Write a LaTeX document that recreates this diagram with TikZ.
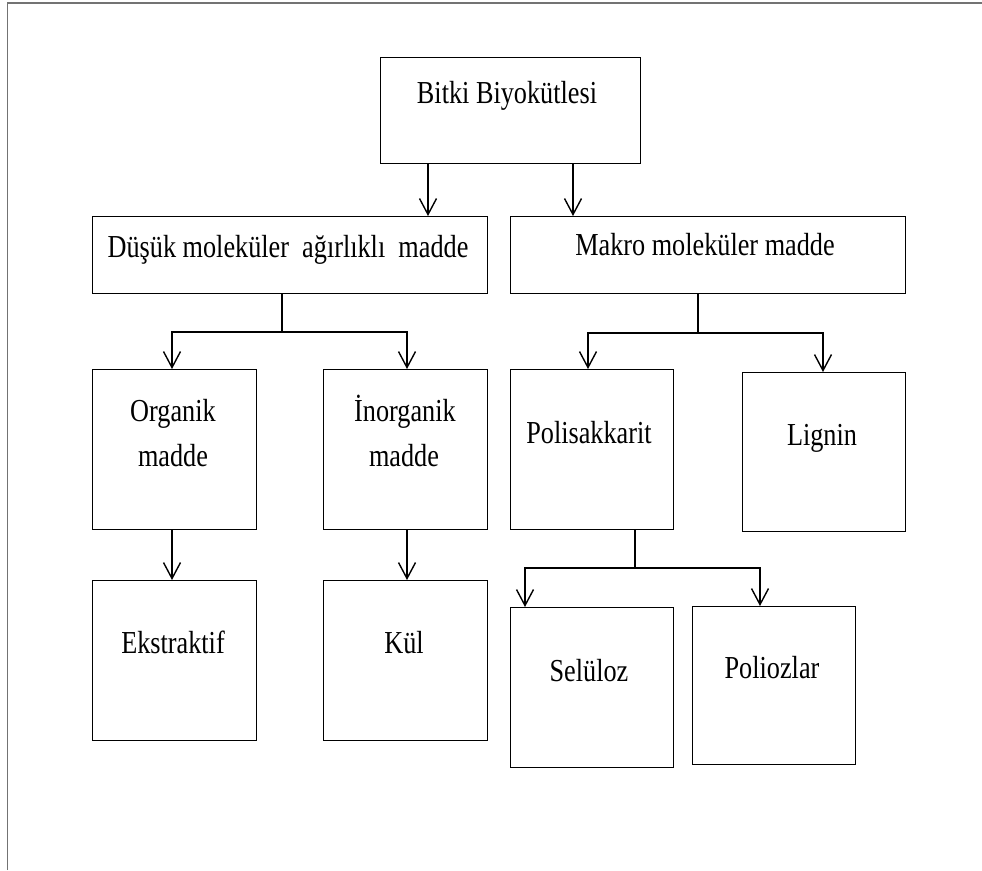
\documentclass[tikz,border=0pt]{standalone}
\usepackage{fontspec}
\setmainfont{Liberation Serif}
\usetikzlibrary{arrows.meta}

\tikzset{
  box/.style={draw, line width=1.4pt, inner sep=0pt, anchor=north west},
  txt/.style={anchor=base, inner sep=0pt, font=\fontsize{32}{45}\selectfont},
  link/.style={line width=1.4pt},
  arr/.style={line width=1.4pt, -{Straight Barb[length=16pt,width=17pt,line width=1.4pt]}},
  frame/.style={line width=1.5pt, black!55}
}
\newcommand{\nar}[1]{\scalebox{0.82}[1]{#1}}

\begin{document}
\begin{tikzpicture}[x=1pt, y=-1pt]
\useasboundingbox (0,0) rectangle (982,870);

% page edges
\coordinate (fa) at (7.5,870);
\coordinate (fb) at (7.5,3);
\coordinate (fc) at (982,3);
\draw[frame] (fa) -- (fb) -- (fc);

% boxes
\node[box, minimum width=260pt, minimum height=106pt] (root)  at (380,57)  {};
\node[box, minimum width=395pt, minimum height=77pt]  (low)   at (92,216)  {};
\node[box, minimum width=395pt, minimum height=77pt]  (macro) at (510,216) {};
\node[box, minimum width=164pt, minimum height=160pt] (org)   at (92,369)  {};
\node[box, minimum width=164pt, minimum height=160pt] (inorg) at (323,369) {};
\node[box, minimum width=163pt, minimum height=160pt] (poly)  at (510,369) {};
\node[box, minimum width=163pt, minimum height=159pt] (lig)   at (742,372) {};
\node[box, minimum width=164pt, minimum height=160pt] (ext)   at (92,580)  {};
\node[box, minimum width=164pt, minimum height=160pt] (kul)   at (323,580) {};
\node[box, minimum width=163pt, minimum height=160pt] (sel)   at (510,607) {};
\node[box, minimum width=163pt, minimum height=158pt] (pol)   at (692,606) {};

% texts
\node[txt] (troot)  at (507,103) {\nar{Bitki Biyokütlesi}};
\node[txt] (tlow)   at (288,257) {\nar{Düşük moleküler\ \ ağırlıklı\ \ madde}};
\node[txt] (tmacro) at (705,255) {\nar{Makro moleküler madde}};
\node[txt] (torg1)  at (173,421) {\nar{Organik}};
\node[txt] (torg2)  at (173,466) {\nar{madde}};
\node[txt] (tinorg1) at (405,421) {\nar{İnorganik}};
\node[txt] (tinorg2) at (404,466) {\nar{madde}};
\node[txt] (tpoly)  at (589,443) {\nar{Polisakkarit}};
\node[txt] (tlig)   at (822,445) {\nar{Lignin}};
\node[txt] (text)   at (173,653) {\nar{Ekstraktif}};
\node[txt] (tkul)   at (404,653) {\nar{Kül}};
\node[txt] (tsel)   at (589,681) {\nar{Selüloz}};
\node[txt] (tpol)   at (772,678) {\nar{Poliozlar}};

% junction points
\coordinate (jlow)   at (282,332);
\coordinate (jmacro) at (698,333);
\coordinate (jpoly)  at (635,568);

% connectors
\draw[arr] (root.south -| 428,0) -- (low.north -| 428,0);
\draw[arr] (root.south -| 573,0) -- (macro.north -| 573,0);

\draw[link] (low.south -| jlow) -- (jlow);
\draw[arr] (jlow) -| (org.north -| 172,0);
\draw[arr] (jlow) -| (inorg.north -| 407,0);

\draw[link] (macro.south -| jmacro) -- (jmacro);
\draw[arr] (jmacro) -| (poly.north -| 588,0);
\draw[arr] (jmacro) -| (lig.north -| 823,0);

\draw[arr] (org.south -| 172,0) -- (ext.north -| 172,0);
\draw[arr] (inorg.south -| 407,0) -- (kul.north -| 407,0);

\draw[link] (poly.south -| jpoly) -- (jpoly);
\draw[arr] (jpoly) -| (sel.north -| 525,0);
\draw[arr] (jpoly) -| (pol.north -| 760,0);
\end{tikzpicture}
\end{document}
